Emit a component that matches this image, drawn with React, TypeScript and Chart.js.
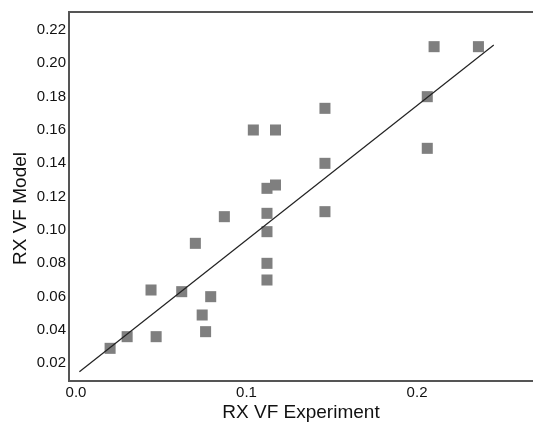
import React, { useEffect, useRef } from "react";
import { Chart, registerables } from "chart.js";

Chart.register(...registerables);

const expX = [0.020, 0.030, 0.047, 0.044, 0.062, 0.079, 0.074, 0.076, 0.070, 0.087, 0.112, 0.112, 0.112, 0.112, 0.146, 0.104, 0.117, 0.146, 0.112, 0.117, 0.210, 0.236, 0.206, 0.206, 0.146];
const modelY = [0.029, 0.036, 0.036, 0.064, 0.063, 0.060, 0.049, 0.039, 0.092, 0.108, 0.110, 0.099, 0.080, 0.070, 0.173, 0.160, 0.160, 0.140, 0.125, 0.127, 0.210, 0.210, 0.180, 0.149, 0.111];
const fitX = [0.002, 0.245];
const fitY = [0.015, 0.211];
const xTicks = [0.0, 0.1, 0.2];
const yTicks = [0.02, 0.04, 0.06, 0.08, 0.10, 0.12, 0.14, 0.16, 0.18, 0.20, 0.22];
const yTitle = "RX VF Model";

const FONT = "'Liberation Sans', Arial, sans-serif";

const extras = {
  id: "extras",
  afterDraw(chart: any) {
    const { ctx, chartArea } = chart;
    ctx.save();
    ctx.strokeStyle = "#555";
    ctx.lineWidth = 2;
    ctx.beginPath();
    ctx.moveTo(chartArea.left - 1, chartArea.top);
    ctx.lineTo(chartArea.right, chartArea.top);
    ctx.stroke();
    // y axis title, placed slightly below the axis centre like the reference
    ctx.translate(21, (chartArea.top + chartArea.bottom) / 2 + 12);
    ctx.rotate(-Math.PI / 2);
    ctx.fillStyle = "#111";
    ctx.font = `19px ${FONT}`;
    ctx.textAlign = "center";
    ctx.textBaseline = "middle";
    ctx.fillText(yTitle, 0, 0);
    ctx.restore();
  },
};

export default function App() {
  const ref = useRef<HTMLCanvasElement>(null);
  useEffect(() => {
    if (!ref.current) return;
    const chart = new Chart(ref.current, {
      type: "scatter",
      data: {
        datasets: [
          {
            label: "Fit",
            data: fitX.map((x, i) => ({ x, y: fitY[i] })),
            showLine: true,
            borderColor: "#222",
            borderWidth: 1.2,
            pointRadius: 0,
            order: 0,
          },
          {
            label: "RX VF",
            data: expX.map((x, i) => ({ x, y: modelY[i] })),
            pointStyle: "rect",
            pointRadius: 7.8,
            backgroundColor: "#7f7f7f",
            borderWidth: 0,
            order: 1,
          },
        ],
      },
      options: {
        responsive: false,
        animation: false,
        layout: { autoPadding: false, padding: { top: 12, left: 0, right: 0, bottom: 0 } },
        plugins: { legend: { display: false }, tooltip: { enabled: false } },
        scales: {
          x: {
            type: "linear",
            min: -0.0041,
            max: 0.268,
            grid: { display: false, drawTicks: false },
            border: { display: true, color: "#555", width: 2 },
            afterBuildTicks: (s: any) => {
              s.ticks = xTicks.map((v) => ({ value: v }));
            },
            afterFit: (s: any) => {
              s.height = 43;
            },
            ticks: {
              padding: 3,
              color: "#111",
              font: { family: FONT, size: 15 },
              callback: (v: any) => Number(v).toFixed(1),
            },
            title: {
              display: true,
              text: "RX VF Experiment",
              color: "#111",
              font: { family: FONT, size: 19 },
              padding: { top: 0, bottom: 0 },
            },
          },
          y: {
            type: "linear",
            min: 0.0094,
            max: 0.2308,
            grid: { display: false, drawTicks: false },
            border: { display: true, color: "#555", width: 2 },
            afterBuildTicks: (s: any) => {
              s.ticks = yTicks.map((v) => ({ value: v }));
            },
            afterFit: (s: any) => {
              s.width = 69;
            },
            ticks: {
              padding: 3,
              color: "#111",
              font: { family: FONT, size: 15 },
              callback: (v: any) => Number(v).toFixed(2),
            },
          },
        },
      },
      plugins: [extras],
    });
    return () => chart.destroy();
  }, []);
  return (
    <div style={{ position: "absolute", left: 0, top: 0, width: 533, height: 424, background: "#fff" }}>
      <canvas ref={ref} width={533} height={424} />
    </div>
  );
}
